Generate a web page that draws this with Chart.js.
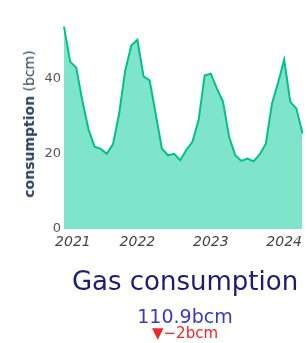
<!DOCTYPE html>
<html>
<head>
<meta charset="utf-8">
<script src="https://cdn.jsdelivr.net/npm/chart.js@4/dist/chart.umd.min.js"></script>
<style>
  body { margin: 0; background: #fff; }
  #wrap { position: relative; width: 307px; height: 343px; overflow: hidden; font-family: "DejaVu Sans", Verdana, sans-serif; }
  #ytitle { position: absolute; left: 29px; top: 124px; transform: translate(-50%, -50%) rotate(-90deg);
            white-space: nowrap; font-size: 14px; color: #2a3f5f; }
  .ind { position: absolute; left: 63px; width: 244px; text-align: center; white-space: nowrap; }
  #indTitle { top: 268px; font-size: 26px; line-height: 26px; color: #1c1c78; }
  #indValue { top: 307px; font-size: 19px; line-height: 19px; color: #3a3ac0; }
  #indDelta { top: 326px; font-size: 15px; line-height: 15px; color: #f0262a; }
</style>
</head>
<body>
<div id="wrap">
  <canvas id="gas-canvas" width="307" height="343"></canvas>
  <div id="ytitle"><b>consumption</b> (bcm)</div>
  <div class="ind" id="indTitle">Gas consumption</div>
  <div class="ind" id="indValue">110.9bcm</div>
  <div class="ind" id="indDelta">▼−2bcm</div>
</div>
<script>
// monthly gas consumption, Jan 2021 .. Apr 2024 (bcm)
var months = [
  '2021-01','2021-02','2021-03','2021-04','2021-05','2021-06','2021-07','2021-08','2021-09','2021-10','2021-11','2021-12',
  '2022-01','2022-02','2022-03','2022-04','2022-05','2022-06','2022-07','2022-08','2022-09','2022-10','2022-11','2022-12',
  '2023-01','2023-02','2023-03','2023-04','2023-05','2023-06','2023-07','2023-08','2023-09','2023-10','2023-11','2023-12',
  '2024-01','2024-02','2024-03','2024-04'
];
var consumption = [
  53.8, 44.5, 42.9, 34.1, 26.5, 21.9, 21.3, 20.0, 22.5, 30.5, 42.0, 48.8,
  50.3, 40.6, 39.5, 30.5, 21.4, 19.6, 20.0, 18.3, 21.0, 23.2, 28.9, 40.8,
  41.3, 37.3, 33.8, 24.5, 19.6, 18.1, 18.7, 18.0, 19.8, 22.7, 33.3, 38.9,
  45.0, 33.8, 32.0, 25.4
];
var yearTicks = [0, 12, 24, 36];
var yearLabels = ['2021', '2022', '2023', '2024'];
var yTicks = [0, 20, 40];

var ctx = document.getElementById('gas-canvas').getContext('2d');
var chart = new Chart(ctx, {
  type: 'line',
  data: {
    labels: months,
    datasets: [{
      data: consumption,
      borderColor: '#00c08c',
      backgroundColor: 'rgba(0,204,150,0.5)',
      borderWidth: 2,
      pointRadius: 0,
      tension: 0,
      fill: 'origin'
    }]
  },
  options: {
    responsive: false,
    devicePixelRatio: 1,
    animation: false,
    layout: { padding: { top: 24, bottom: 84, left: 0, right: 0 } },
    plugins: { legend: { display: false }, tooltip: { enabled: false } },
    scales: {
      x: {
        type: 'category',
        offset: false,
        grid: { display: false, drawTicks: false },
        border: { display: false },
        afterBuildTicks: function (s) { s.ticks = yearTicks.map(function (v) { return { value: v }; }); },
        afterFit: function (s) { s.height = 30; },
        ticks: {
          autoSkip: false, maxRotation: 0, padding: 5, color: '#444',
          font: { family: 'DejaVu Sans', size: 14, style: 'italic' },
          callback: function (v, i) { return i === 0 ? '    ' + yearLabels[i] : yearLabels[i]; }
        }
      },
      y: {
        min: 0,
        max: 54.5,
        grid: { display: false, drawTicks: false },
        border: { display: false },
        afterBuildTicks: function (s) { s.ticks = yTicks.map(function (v) { return { value: v }; }); },
        afterFit: function (s) { s.width = 64; },
        ticks: {
          padding: 3, color: '#555',
          font: { family: 'DejaVu Sans', size: 13 }
        }
      }
    }
  }
});
</script>
</body>
</html>
